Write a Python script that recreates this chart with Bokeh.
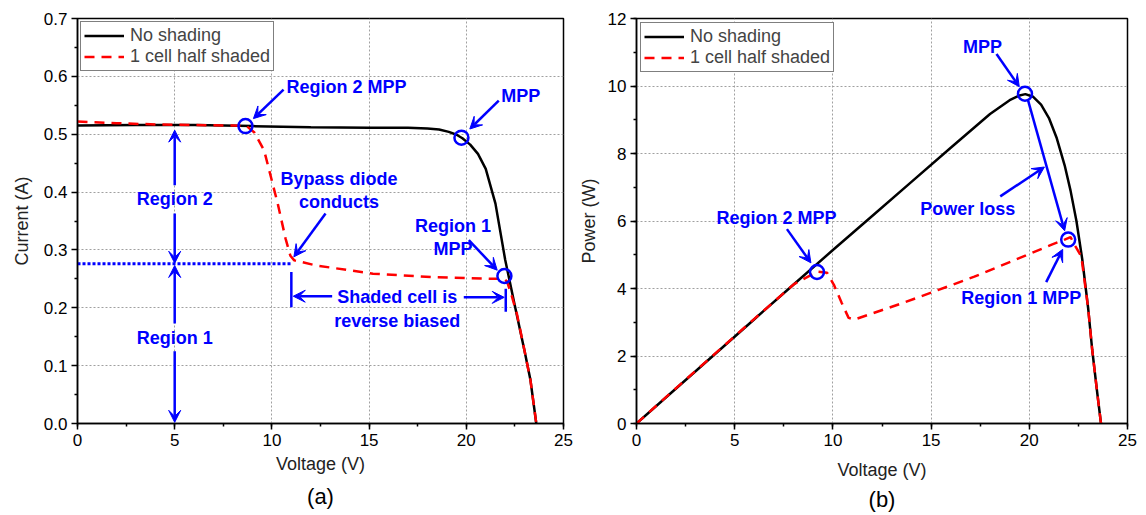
from bokeh.plotting import figure
from bokeh.layouts import row
from bokeh.models import (Range1d, SingleIntervalTicker, FixedTicker, PrintfTickFormatter,
                          Label, Arrow, VeeHead, Title)
from bokeh.embed import file_html
from bokeh.resources import INLINE

FONT = "Liberation Sans"
BLUE = "#0000FF"
RED = "#FF0000"

# ---------------- data ----------------
# (a) I-V curves
iv_v_ns = [0, 3, 6, 9, 12, 15, 17, 18, 18.6, 19.1, 19.5, 19.8, 20.2, 20.6, 21.0,
           21.5, 22.0, 22.5, 23.0, 23.3, 23.6]
iv_i_ns = [0.515, 0.516, 0.516, 0.514, 0.512, 0.511, 0.511, 0.510, 0.508, 0.504,
           0.499, 0.493, 0.482, 0.466, 0.440, 0.380, 0.283, 0.203, 0.125, 0.075, 0.0]
iv_v_sh = [0, 2, 4, 6, 8, 8.7, 9.1, 9.6, 9.95, 10.3, 10.7, 10.95, 11.15, 12.3, 15.2,
           18.2, 21.4, 21.95, 22.1, 22.3, 22.6, 23.0, 23.3, 23.6]
iv_i_sh = [0.522, 0.519, 0.517, 0.516, 0.515, 0.514, 0.503, 0.472, 0.426, 0.380,
           0.320, 0.290, 0.282, 0.273, 0.259, 0.253, 0.250, 0.250, 0.245, 0.225,
           0.190, 0.125, 0.075, 0.0]
iv_mpp_v = [8.64, 19.75, 21.96]
iv_mpp_i = [0.514, 0.494, 0.255]
current_ticks = [0.0, 0.1, 0.2, 0.3, 0.4, 0.5, 0.6, 0.7]
current_minor = [0.05, 0.15, 0.25, 0.35, 0.45, 0.55, 0.65]

# (b) P-V curves
pv_v_ns = [0, 2, 4, 6, 8, 10, 12, 14, 16, 18, 19, 19.5, 19.8, 20.2, 20.6, 21.0,
           21.4, 21.8, 22.1, 22.4, 22.7, 23.0, 23.2, 23.45, 23.65]
pv_p_ns = [0, 1.03, 2.06, 3.09, 4.12, 5.14, 6.15, 7.16, 8.17, 9.17, 9.58, 9.72,
           9.76, 9.68, 9.45, 9.05, 8.45, 7.65, 6.90, 6.00, 4.85, 3.40, 2.20, 0.95, 0]
pv_v_sh = [0, 2, 4, 6, 8, 9.2, 9.7, 10.05, 10.45, 10.8, 11.1, 13.46, 15.34, 17.2,
           19.83, 21.14, 21.8, 22.1, 22.35, 22.65, 23.0, 23.2, 23.45, 23.65]
pv_p_sh = [0, 1.04, 2.07, 3.10, 4.12, 4.50, 4.47, 4.11, 3.57, 3.13, 3.08, 3.55,
           3.95, 4.35, 4.98, 5.30, 5.45, 5.52, 5.25, 4.95, 3.40, 2.20, 0.95, 0]
pv_mpp_v = [9.19, 19.78, 21.98]
pv_mpp_p = [4.49, 9.77, 5.45]


def base_fig(width, height, ymax, yticker, yfmt, borders, ylabel):
    l, r, t, b = borders
    p = figure(width=width, height=height, output_backend="svg", toolbar_location=None,
               x_range=Range1d(0, 25), y_range=Range1d(0, ymax),
               min_border_left=l, min_border_right=r, min_border_top=t,
               min_border_bottom=b, background_fill_color="white",
               border_fill_color="white")
    p.outline_line_color = "black"
    p.outline_line_width = 1.5
    p.xaxis.ticker = SingleIntervalTicker(interval=5, num_minor_ticks=2)
    p.yaxis.ticker = yticker
    p.xaxis.formatter = PrintfTickFormatter(format="%d")
    p.yaxis.formatter = PrintfTickFormatter(format=yfmt)
    for ax in (p.xaxis, p.yaxis):
        ax.axis_line_color = "black"
        ax.axis_line_width = 1.5
        ax.major_tick_line_color = "black"
        ax.major_tick_line_width = 1.5
        ax.major_tick_out = 6
        ax.major_tick_in = 0
        ax.minor_tick_line_color = "black"
        ax.minor_tick_line_width = 1.5
        ax.minor_tick_out = 3
        ax.minor_tick_in = 0
        ax.major_label_text_font = FONT
        ax.major_label_text_font_size = "17px"
        ax.major_label_text_color = "black"
        ax.axis_label_text_font = FONT
        ax.axis_label_text_font_size = "18px"
        ax.axis_label_text_font_style = "normal"
        ax.axis_label_text_color = "#222222"
        ax.major_label_standoff = 4
    p.xaxis.axis_label = "Voltage (V)"
    p.yaxis.axis_label = ylabel
    p.xaxis.axis_label_standoff = 5
    p.yaxis.axis_label_standoff = 9
    for g in (p.xgrid, p.ygrid):
        g.grid_line_color = "#a0a0a0"
        g.grid_line_dash = "2 2"
        g.grid_line_width = 1
    return p


def style_legend(p, margin):
    lg = p.legend[0]
    lg.location = "top_left"
    lg.margin = margin
    lg.padding = 3
    lg.spacing = 0
    lg.glyph_width = 40
    lg.glyph_height = 21
    lg.label_height = 21
    lg.label_standoff = 6
    lg.label_text_font = FONT
    lg.label_text_font_size = "18px"
    lg.border_line_color = "black"
    lg.border_line_width = 1.5
    lg.background_fill_alpha = 1.0


def txt(p, x, y, s, align="center"):
    p.add_layout(Label(x=x, y=y, text=s, text_color=BLUE, text_font=FONT,
                       text_font_style="bold", text_font_size="18px",
                       text_align=align, text_baseline="middle"))


def arrow(p, x0, y0, x1, y1, size=12):
    p.add_layout(Arrow(end=VeeHead(size=size, fill_color=BLUE, line_color=BLUE,
                                   line_width=1),
                       x_start=x0, y_start=y0, x_end=x1, y_end=y1,
                       line_color=BLUE, line_width=2.5))


def bar(p, x0, y0, x1, y1):
    p.add_layout(Arrow(end=None, start=None, x_start=x0, y_start=y0, x_end=x1,
                       y_end=y1, line_color=BLUE, line_width=2.5))


# ---------------- (a) ----------------
p1 = base_fig(575, 515, 0.7, FixedTicker(ticks=current_ticks, minor_ticks=current_minor),
              "%.1f", (77, 12, 18, 92), "Current (A)")
p1.line(iv_v_ns, iv_i_ns, line_color="black", line_width=2.5, legend_label="No shading")
p1.line(iv_v_sh, iv_i_sh, line_color=RED, line_width=2.5, line_dash="10 7",
        legend_label="1 cell half shaded")
style_legend(p1, 3)
p1.line([0, 10.96], [0.276, 0.276], line_color=BLUE, line_width=3, line_dash="3 2")
p1.scatter(iv_mpp_v, iv_mpp_i, marker="circle", size=14, fill_color=None,
           line_color=BLUE, line_width=2.5)

txt(p1, 10.75, 0.582, "Region 2 MPP", "left")
arrow(p1, 10.6, 0.577, 9.05, 0.527)
txt(p1, 21.8, 0.566, "MPP", "left")
arrow(p1, 21.67, 0.558, 20.18, 0.509)
txt(p1, 5, 0.388, "Region 2")
arrow(p1, 5, 0.412, 5, 0.507)
arrow(p1, 5, 0.363, 5, 0.277)
txt(p1, 5, 0.148, "Region 1")
arrow(p1, 5, 0.173, 5, 0.273)
arrow(p1, 5, 0.125, 5, 0.002)
txt(p1, 13.45, 0.422, "Bypass diode")
txt(p1, 13.45, 0.382, "conducts")
arrow(p1, 12.76, 0.363, 11.13, 0.288)
txt(p1, 19.32, 0.341, "Region 1")
txt(p1, 19.32, 0.302, "MPP")
arrow(p1, 20.13, 0.317, 21.59, 0.265)
txt(p1, 16.45, 0.218, "Shaded cell is")
txt(p1, 16.45, 0.178, "reverse biased")
bar(p1, 11.0, 0.262, 11.0, 0.201)
arrow(p1, 13.1, 0.22, 11.1, 0.22)
bar(p1, 22.03, 0.233, 22.03, 0.193)
arrow(p1, 19.87, 0.218, 21.95, 0.218)
p1.add_layout(Title(text="(a)", align="center", text_font=FONT, text_font_size="22px",
                    text_font_style="normal", text_color="black"), "below")

# ---------------- (b) ----------------
p2 = base_fig(563, 515, 12, SingleIntervalTicker(interval=2, num_minor_ticks=2), "%d",
              (61, 11, 16, 90), "Power (W)")
p2.yaxis.axis_label_standoff = 6
p2.xaxis.axis_label_standoff = 11
p2.line(pv_v_ns, pv_p_ns, line_color="black", line_width=2.5, legend_label="No shading")
p2.line(pv_v_sh, pv_p_sh, line_color=RED, line_width=2.5, line_dash="10 7",
        legend_label="1 cell half shaded")
style_legend(p2, 4)
p2.scatter(pv_mpp_v, pv_mpp_p, marker="circle", size=14, fill_color=None,
           line_color=BLUE, line_width=2.5)

txt(p2, 17.62, 11.15, "MPP")
arrow(p2, 18.33, 10.95, 19.49, 9.98)
arrow(p2, 19.93, 9.59, 21.8, 5.71)
txt(p2, 16.87, 6.36, "Power loss")
arrow(p2, 18.52, 6.73, 20.77, 7.6)
txt(p2, 7.13, 6.1, "Region 2 MPP")
arrow(p2, 7.66, 5.76, 8.88, 4.76)
txt(p2, 19.59, 3.72, "Region 1 MPP")
arrow(p2, 20.86, 4.19, 21.7, 5.16)
p2.add_layout(Title(text="(b)", align="center", text_font=FONT, text_font_size="22px",
                    text_font_style="normal", text_color="black", standoff=4), "below")

layout = row(p1, p2)
open("out.html", "w").write(file_html(layout, INLINE))
